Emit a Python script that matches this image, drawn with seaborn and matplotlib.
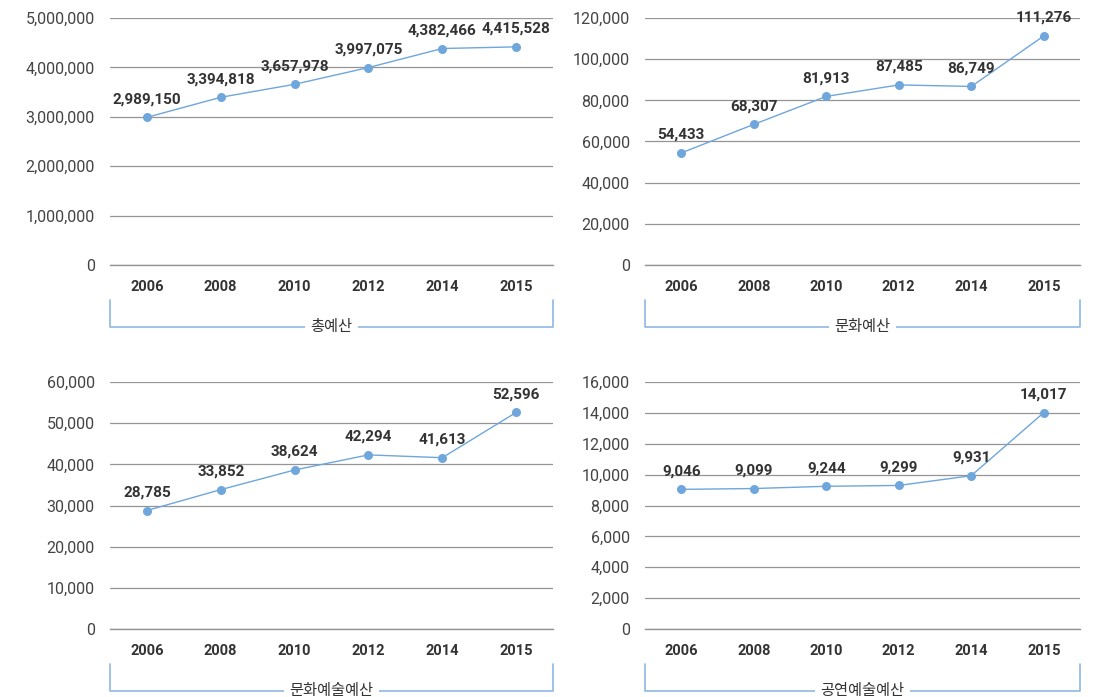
import matplotlib
matplotlib.use('Agg')
import matplotlib.pyplot as plt
from matplotlib.ticker import FuncFormatter
import seaborn as sns
import pandas as pd
import numpy as np

# data
years = ['2006', '2008', '2010', '2012', '2014', '2015']
total_budget = [2989150, 3394818, 3657978, 3997075, 4382466, 4415528]
culture_budget = [54433, 68307, 81913, 87485, 86749, 111276]
culture_arts_budget = [28785, 33852, 38624, 42294, 41613, 52596]
performing_arts_budget = [9046, 9099, 9244, 9299, 9931, 14017]

panel_titles = ['총예산', '문화예산', '문화예술예산', '공연예술예산']
y_max = [5000000, 120000, 60000, 16000]
y_step = [1000000, 20000, 10000, 2000]

LINE = '#6fa6dc'
BRACKET = '#8fb8e2'
GRID = '#959595'

sns.set_style('white')
plt.rcParams['font.family'] = ['Roboto', 'Noto Sans CJK KR', 'DejaVu Sans']

W, H = 1101, 697
fig = plt.figure(figsize=(W / 100, H / 100), dpi=100)

# panel boxes in pixels: left, right, top, bottom
boxes = [(110, 553, 18, 265), (645, 1080, 18, 265),
         (110, 553, 382, 629), (645, 1080, 382, 629)]
series = [total_budget, culture_budget, culture_arts_budget, performing_arts_budget]

for (l, r, t, b), vals, title, ymax, step in zip(boxes, series, panel_titles, y_max, y_step):
    ax = fig.add_axes([l / W, 1 - b / H, (r - l) / W, (b - t) / H])
    df = pd.DataFrame({'year': years, 'value': vals})
    sns.lineplot(data=df, x='year', y='value', ax=ax, color=LINE, lw=1,
                 marker='o', markersize=6.5, markeredgewidth=0, sort=False)

    ax.set_xlim(-0.5, 5.5)
    ax.set_ylim(0, ymax)
    ax.set_xticks(range(len(years)), years)
    ax.set_xticks(np.arange(-0.5, len(years), 1), minor=True)
    ax.set_yticks(range(0, ymax + 1, step))
    ax.yaxis.set_major_formatter(FuncFormatter(lambda v, p: f'{int(v):,}'))
    ax.set_xlabel('')
    ax.set_ylabel('')

    ax.grid(axis='y', color=GRID, lw=0.9)
    ax.set_axisbelow(True)
    for s in ['left', 'right', 'top']:
        ax.spines[s].set_visible(False)
    ax.spines['bottom'].set_color(GRID)
    ax.spines['bottom'].set_linewidth(1)

    ax.tick_params(axis='y', length=0, pad=11, labelsize=11.5, labelcolor='#444')
    ax.tick_params(axis='x', which='major', length=0, pad=11, labelsize=10.5, labelcolor='#333')
    ax.tick_params(axis='x', which='minor', direction='in', length=5, color=GRID, width=1)
    for lab in ax.get_xticklabels():
        lab.set_fontweight('bold')

    for i, v in enumerate(vals):
        ax.annotate(f'{v:,}', (i, v), xytext=(0, 8), textcoords='offset points',
                    ha='center', va='bottom', fontsize=11, fontweight='bold', color='#333')

    # bracket under the axis
    hpx = b - t
    y_top = -35 / hpx
    y_bot = -62 / hpx
    ax.plot([0, 0, 1, 1], [y_top, y_bot, y_bot, y_top], transform=ax.transAxes,
            color=BRACKET, lw=1.2, clip_on=False)
    ax.text(0.5, y_bot, title, transform=ax.transAxes, ha='center', va='center',
            fontsize=11, color='#333',
            bbox=dict(facecolor='white', edgecolor='none', pad=4))

fig.savefig('out.png', dpi=100)
